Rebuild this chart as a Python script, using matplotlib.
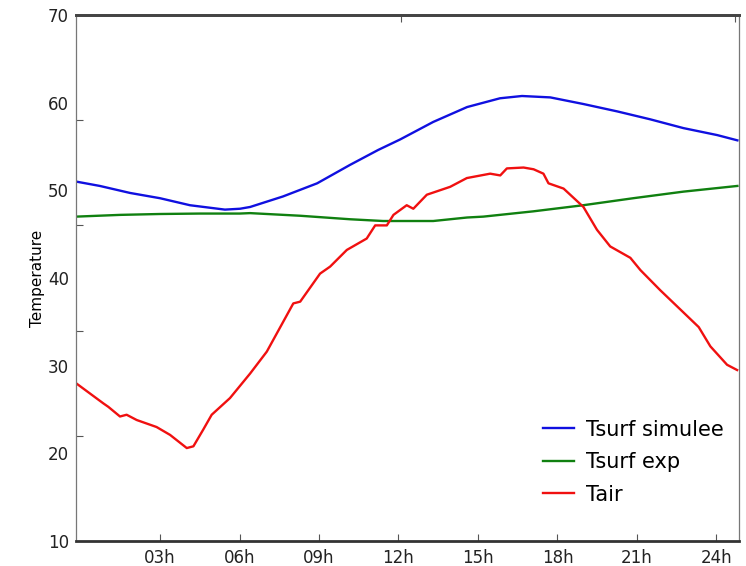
import matplotlib
matplotlib.use("Agg")
import matplotlib.pyplot as plt
from matplotlib.ticker import FixedLocator, NullFormatter

# Hours of the day and temperatures for each series
hours_sim = [-0.17, 0.73, 1.87, 3.0, 4.13, 5.45, 6.02, 6.40, 7.64, 8.93, 10.17,
             11.23, 12.06, 13.31, 14.59, 15.83, 16.66, 17.73, 18.97, 20.26,
             21.50, 22.75, 24.03, 24.79]
tsurf_sim = [51.0, 50.5, 49.7, 49.1, 48.3, 47.8, 47.9, 48.1, 49.3, 50.8, 52.9,
             54.6, 55.8, 57.8, 59.5, 60.5, 60.76, 60.6, 59.85, 59.0,
             58.1, 57.1, 56.3, 55.7]

hours_exp = [-0.17, 1.5, 3.0, 4.5, 6.0, 6.4, 8.29, 10.17, 11.42, 13.31, 14.59,
             15.2, 17.08, 18.97, 20.86, 22.75, 24.79]
tsurf_exp = [47.0, 47.2, 47.3, 47.35, 47.35, 47.4, 47.1, 46.7, 46.5, 46.5, 46.9,
             47.0, 47.6, 48.3, 49.1, 49.85, 50.5]

hours_air = [-0.17, 0.86, 1.05, 1.49, 1.74, 2.12, 2.87, 3.38, 4.01, 4.26, 4.63,
             4.95, 5.64, 6.40, 7.03, 8.03, 8.29, 9.04, 9.42, 10.05, 10.80,
             11.12, 11.56, 11.81, 12.31, 12.56, 13.07, 13.95, 14.58, 15.46,
             15.84, 16.09, 16.72, 17.10, 17.47, 17.66, 18.23, 18.98, 19.49,
             19.99, 20.75, 21.13, 21.88, 22.64, 23.33, 23.77, 24.40, 24.78]
tair = [28.0, 25.7, 25.3, 24.2, 24.4, 23.8, 23.0, 22.1, 20.6, 20.8, 22.7,
        24.4, 26.3, 29.1, 31.6, 37.1, 37.3, 40.5, 41.3, 43.2, 44.5,
        46.0, 46.0, 47.2, 48.3, 47.9, 49.5, 50.4, 51.4, 51.9,
        51.7, 52.5, 52.6, 52.4, 51.9, 50.8, 50.2, 48.1, 45.5,
        43.6, 42.3, 40.9, 38.6, 36.4, 34.4, 32.2, 30.1, 29.5]

xtick_hours = [3, 6, 9, 12, 15, 18, 21, 24]
xtick_labels = ["03h", "06h", "09h", "12h", "15h", "18h", "21h", "24h"]
ytick_values = [10, 20, 30, 40, 50, 60, 70]
ytick_marks = [22, 34, 46, 58]
top_tick_hours = [12.1, 24.7]

fig = plt.figure(figsize=(7.46, 5.66), dpi=100)
ax = fig.add_axes([0.1019, 0.0442, 0.8887, 0.9293])

ax.plot(hours_sim, tsurf_sim, color="#1010e0", lw=1.7, label="Tsurf simulee")
ax.plot(hours_exp, tsurf_exp, color="#108010", lw=1.7, label="Tsurf exp")
ax.plot(hours_air, tair, color="#f01010", lw=1.7, label="Tair")

ax.set_xlim(-0.17, 24.85)
ax.set_ylim(10, 70)

ax.set_xticks(xtick_hours)
ax.set_xticklabels(xtick_labels, fontsize=12, color="#222222")
ax.tick_params(axis="x", which="major", direction="in", length=5, width=0.8,
               color="#555555", top=False, pad=6)

ax.set_yticks(ytick_values)
ax.set_yticklabels([str(v) for v in ytick_values], fontsize=12, color="#222222")
ax.yaxis.set_minor_locator(FixedLocator(ytick_marks))
ax.yaxis.set_minor_formatter(NullFormatter())
ax.tick_params(axis="y", which="major", length=0, pad=5, right=False)
ax.tick_params(axis="y", which="minor", direction="in", length=5, width=0.8,
               color="#555555", right=False)

top = ax.secondary_xaxis("top")
top.set_xticks(top_tick_hours)
top.set_xticklabels([])
top.tick_params(direction="in", length=5, width=0.8, color="#555555")
top.spines["top"].set_linewidth(2.0)
top.spines["top"].set_color("#444444")

ax.set_ylabel("Temperature", fontsize=11, labelpad=2)

for side in ("left", "right"):
    ax.spines[side].set_linewidth(0.9)
    ax.spines[side].set_color("#777777")
ax.spines["top"].set_linewidth(2.0)
ax.spines["top"].set_color("#444444")
ax.spines["bottom"].set_linewidth(2.0)
ax.spines["bottom"].set_color("#333333")

leg = ax.legend(loc="lower right", bbox_to_anchor=(0.99, 0.053), frameon=False,
                fontsize=15, handlelength=1.5, handletextpad=0.6,
                labelspacing=0.6, borderaxespad=0)

fig.savefig("out.png", dpi=100)
